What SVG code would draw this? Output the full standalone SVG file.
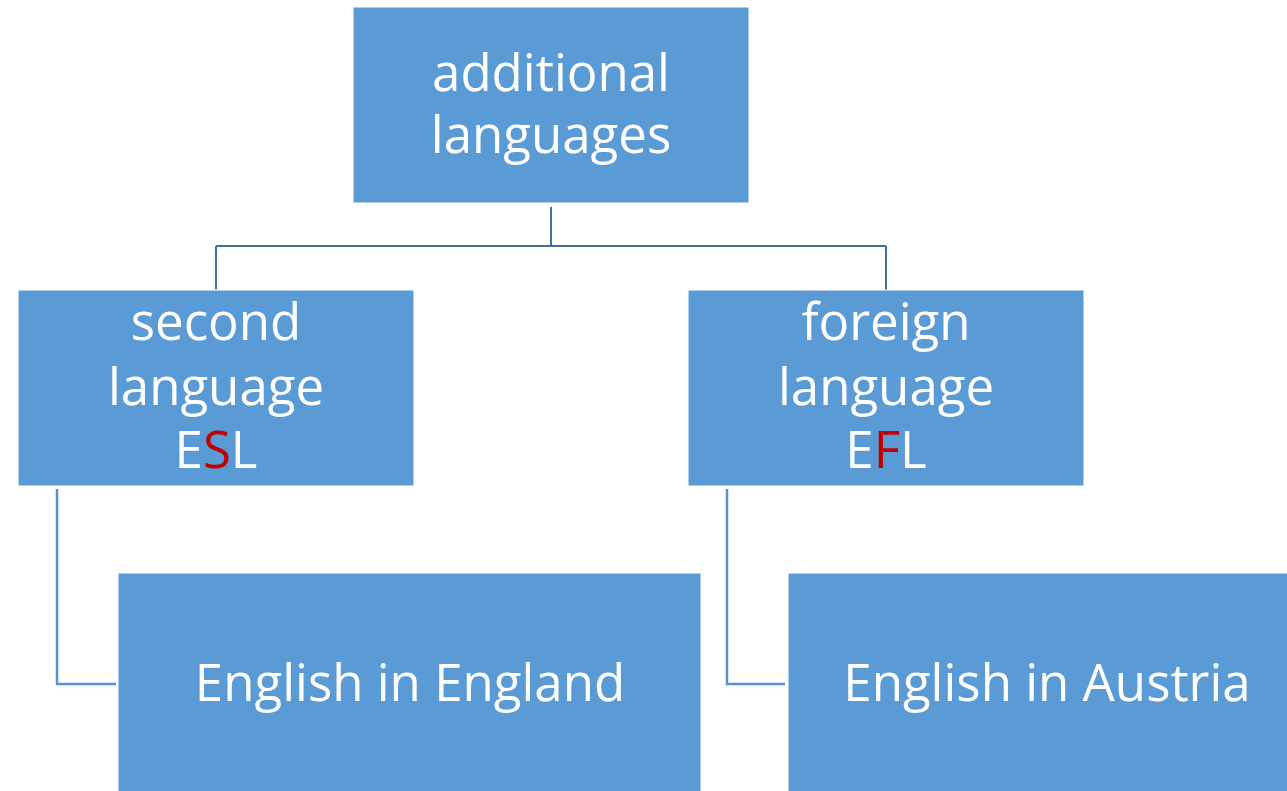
<svg xmlns="http://www.w3.org/2000/svg" width="1287" height="791" viewBox="0 0 1287 791">
<style>
.box{fill:#5B9BD5;stroke:#FFFFFF;stroke-width:1}
.t{font-family:"Open Sans","Noto Sans",sans-serif;fill:#FFFFFF;text-anchor:middle;font-size:51px}
.red{fill:#C00000}
.c1{fill:none;stroke:#41719C;stroke-width:2}
.c2{fill:none;stroke:#5592CF;stroke-width:2.5}
</style>
<rect width="1287" height="791" fill="#FFFFFF"/>
<g id="connectors">
<path class="c1" d="M551,207 V246 M216,246 H886 M216,246 V290 M886,246 V290"/>
<path class="c2" d="M57,489 V684 H116"/>
<path class="c2" d="M727,489 V684 H785"/>
</g>
<g id="node-additional">
<rect class="box" x="353" y="7" width="396" height="196"/>
<text class="t" x="551" y="91">additional</text>
<text class="t" x="551" y="153">languages</text>
</g>
<g id="node-second">
<rect class="box" x="18" y="290" width="396" height="196"/>
<text class="t" x="216" y="340">second</text>
<text class="t" x="216" y="405">language</text>
<text class="t" x="216" y="468">E<tspan class="red">S</tspan>L</text>
</g>
<g id="node-foreign">
<rect class="box" x="688" y="290" width="396" height="196"/>
<text class="t" x="886" y="340">foreign</text>
<text class="t" x="886" y="405">language</text>
<text class="t" x="886" y="468">E<tspan class="red">F</tspan>L</text>
</g>
<g id="node-england">
<rect class="box" x="118" y="573" width="583" height="230"/>
<text class="t" x="410" y="701">English in England</text>
</g>
<g id="node-austria">
<rect class="box" x="788" y="573" width="520" height="230"/>
<text class="t" x="1047" y="701">English in Austria</text>
</g>
</svg>
